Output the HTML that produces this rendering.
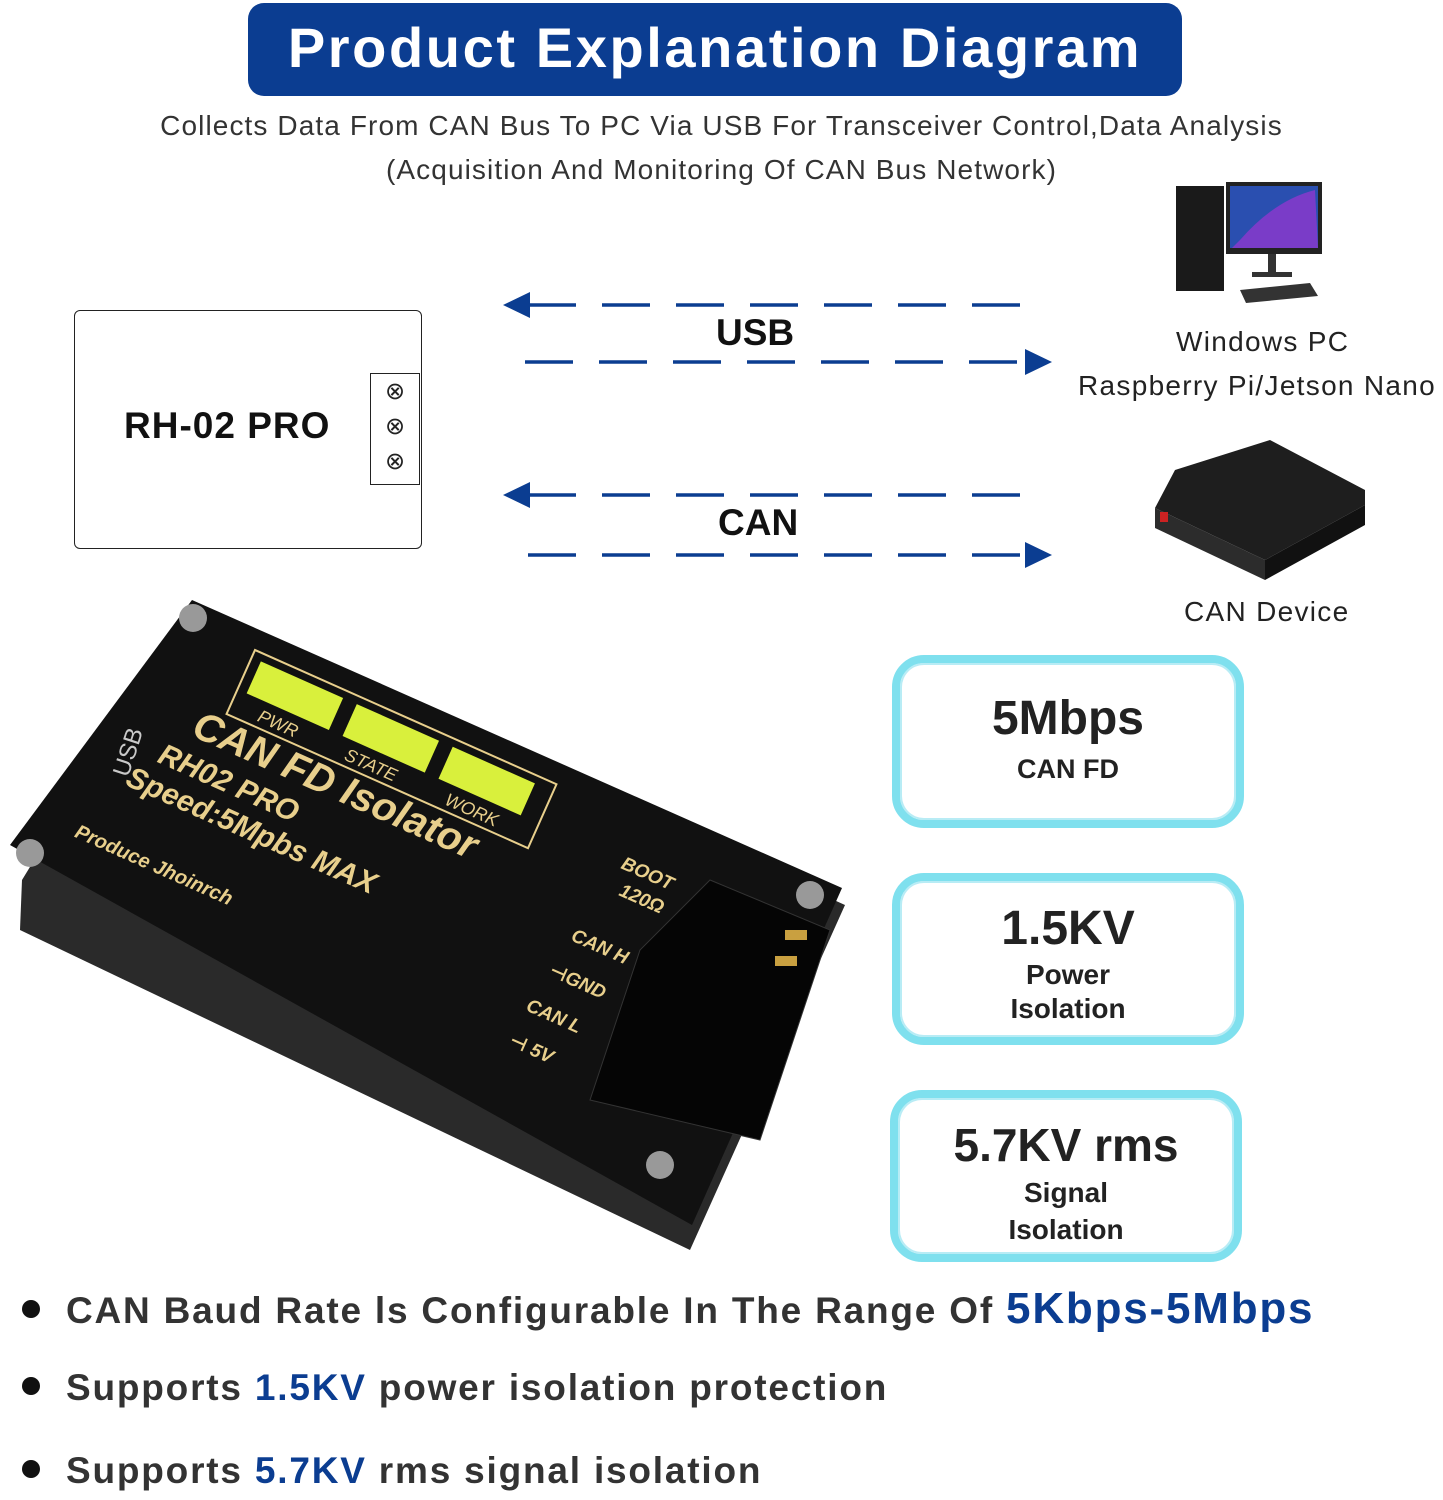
<!DOCTYPE html>
<html><head><meta charset="utf-8"><style>
body{margin:0;width:1443px;height:1500px;background:#fff;position:relative;overflow:hidden;font-family:"Liberation Sans","DejaVu Sans",sans-serif;}
.a{position:absolute}
.banner{left:248px;top:3px;width:934px;height:93px;background:#0b3d91;border-radius:16px;color:#fff;font-weight:bold;font-size:56px;text-align:center;line-height:90px;letter-spacing:2.6px}
.sub{width:1443px;left:0;text-align:center;font-size:28px;color:#333;letter-spacing:1.1px}
.stat{border-radius:32px;border:8px solid #7fe0ee;box-shadow:inset 0 0 0 2px #b8ecf5;text-align:center;color:#222;font-weight:bold;box-sizing:border-box;background:#fff}
.bul{left:22px;font-size:37px;font-weight:bold;color:#333;white-space:nowrap;letter-spacing:1.8px}
.bul b{color:#0b3d91}
.dot{display:inline-block;width:18px;height:18px;border-radius:50%;background:#111;margin-right:26px;vertical-align:middle;position:relative;top:-4px}
.lab{font-size:28px;color:#222;letter-spacing:1.3px}
</style></head><body>
<div class="a banner">Product Explanation Diagram</div>
<div class="a sub" style="top:110px">Collects Data From CAN Bus To PC Via USB For Transceiver Control,Data Analysis</div>
<div class="a sub" style="top:154px">(Acquisition And Monitoring Of CAN Bus Network)</div>

<div class="a" style="left:74px;top:310px;width:346px;height:237px;border:1.5px solid #222;border-radius:6px"></div>
<div class="a" style="left:124px;top:405px;font-size:37px;font-weight:bold;color:#111;letter-spacing:1px">RH-02 PRO</div>
<div class="a" style="left:370px;top:373px;width:48px;height:110px;border:1.5px solid #222;font-size:24px;line-height:35px;text-align:center;color:#222">⊗<br>⊗<br>⊗</div>

<svg class="a" style="left:0;top:0" width="1443" height="1500">
<g stroke="#0b3d91" stroke-width="3.5" stroke-dasharray="48,26" fill="none">
<line x1="528" y1="305" x2="1030" y2="305"/>
<line x1="525" y1="362" x2="1030" y2="362"/>
<line x1="528" y1="495" x2="1032" y2="495"/>
<line x1="528" y1="555" x2="1030" y2="555"/>
</g>
<g fill="#0b3d91">
<polygon points="503,305 530,292 530,318"/>
<polygon points="1052,362 1025,349 1025,375"/>
<polygon points="503,495 530,482 530,508"/>
<polygon points="1052,555 1025,542 1025,568"/>
</g>
<rect x="1176" y="186" width="48" height="105" fill="#1a1a1a"/>
<rect x="1226" y="182" width="96" height="72" fill="#222"/>
<rect x="1230" y="186" width="88" height="62" fill="#2a4fb0"/>
<path d="M1240 240 Q1275 200 1315 190 L1318 248 L1232 248Z" fill="#7a3cc8"/>
<rect x="1268" y="254" width="8" height="18" fill="#333"/>
<rect x="1252" y="272" width="40" height="5" fill="#333"/>
<polygon points="1240,290 1310,283 1318,296 1246,303" fill="#333"/>
<polygon points="1175,470 1270,440 1365,490 1365,505 1265,560 1155,508" fill="#1e1e1e"/>
<polygon points="1155,508 1265,560 1265,580 1155,528" fill="#2c2c2c"/>
<polygon points="1265,560 1365,505 1365,525 1265,580" fill="#111"/>
<rect x="1160" y="512" width="8" height="10" fill="#c22"/>
<polygon points="22,880 188,608 845,905 690,1250 20,930" fill="#2a2a2a"/>
<polygon points="10,845 192,600 842,888 692,1225" fill="#111"/>
<g transform="translate(190,735) rotate(24)" fill="#e8cf8c" font-weight="bold" font-style="italic">
<text x="0" y="0" font-size="40">CAN FD Isolator</text>
<text x="-20" y="38" font-size="30">RH02 PRO</text>
<text x="-40" y="72" font-size="30">Speed:5Mpbs MAX</text>
<text x="-65" y="140" font-size="20">Produce Jhoinrch</text>
</g>
<g transform="translate(255,650) rotate(24)">
<rect x="0" y="0" width="330" height="70" fill="none" stroke="#e8cf8c" stroke-width="2"/>
<rect x="10" y="8" width="90" height="35" fill="#d9f03c"/>
<rect x="115" y="8" width="90" height="35" fill="#d9f03c"/>
<rect x="220" y="8" width="90" height="35" fill="#d9f03c"/>
<text x="30" y="64" fill="#e8cf8c" font-size="18" font-style="italic">PWR</text>
<text x="125" y="64" fill="#e8cf8c" font-size="18" font-style="italic">STATE</text>
<text x="235" y="64" fill="#e8cf8c" font-size="18" font-style="italic">WORK</text>
</g>
<text fill="#c9c9c9" font-size="24" transform="translate(128,778) rotate(-72)">USB</text>
<g fill="#e8cf8c" font-weight="bold" font-style="italic" font-size="19">
<text transform="translate(620,868) rotate(24)">BOOT</text>
<text transform="translate(618,895) rotate(24)">120Ω</text>
<text transform="translate(570,940) rotate(24)">CAN H</text>
<text transform="translate(548,975) rotate(24)">⊣GND</text>
<text transform="translate(525,1010) rotate(24)">CAN L</text>
<text transform="translate(508,1045) rotate(24)">⊣ 5V</text>
</g>
<polygon points="710,880 830,930 760,1140 590,1100 640,950" fill="#050505" stroke="#333"/>
<rect x="785" y="930" width="22" height="10" fill="#c9a040"/>
<rect x="775" y="956" width="22" height="10" fill="#c9a040"/>
<g fill="#999"><circle cx="193" cy="618" r="14"/><circle cx="30" cy="853" r="14"/><circle cx="810" cy="895" r="14"/><circle cx="660" cy="1165" r="14"/></g>
</svg>

<div class="a lab" style="left:1176px;top:326px">Windows PC</div>
<div class="a lab" style="left:1078px;top:370px">Raspberry Pi/Jetson Nano</div>
<div class="a lab" style="left:1184px;top:596px">CAN Device</div>

<div class="a" style="left:716px;top:312px;font-size:37px;font-weight:bold;color:#111">USB</div>
<div class="a" style="left:718px;top:502px;font-size:37px;font-weight:bold;color:#111">CAN</div>

<div class="a stat" style="left:892px;top:655px;width:352px;height:173px"><div style="font-size:48px;margin-top:28px">5Mbps</div><div style="font-size:27px;margin-top:8px">CAN FD</div></div>
<div class="a stat" style="left:892px;top:873px;width:352px;height:172px"><div style="font-size:48px;margin-top:20px">1.5KV</div><div style="font-size:28px;line-height:34px;margin-top:2px">Power<br>Isolation</div></div>
<div class="a stat" style="left:890px;top:1090px;width:352px;height:172px"><div style="font-size:46px;margin-top:20px">5.7KV rms</div><div style="font-size:28px;line-height:37px;margin-top:2px">Signal<br>Isolation</div></div>

<div class="a bul" style="top:1284px"><span class="dot"></span>CAN Baud Rate ls Configurable In The Range Of <b style="font-size:44px">5Kbps-5Mbps</b></div>
<div class="a bul" style="top:1367px"><span class="dot"></span>Supports <b>1.5KV</b> power isolation protection</div>
<div class="a bul" style="top:1450px"><span class="dot"></span>Supports <b>5.7KV</b> rms signal isolation</div>
</body></html>
